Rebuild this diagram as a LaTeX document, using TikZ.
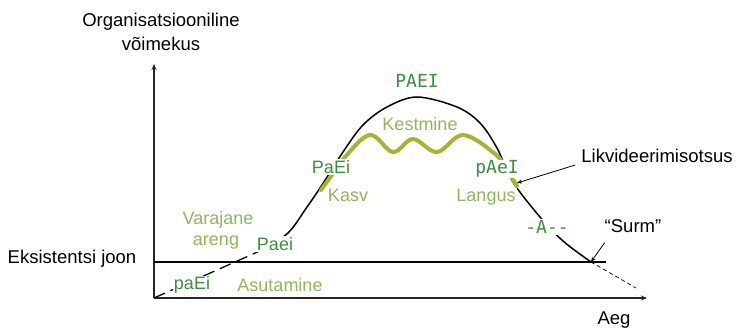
\documentclass[tikz,border=0pt]{standalone}
\usepackage{fontspec}
\setmainfont{Liberation Sans}
\newfontfamily\monofam{DejaVu Sans Mono}
\usetikzlibrary{arrows.meta,calc}
\definecolor{dkgreen}{HTML}{3E8F40}
\definecolor{ltgreen}{HTML}{93B65A}
\definecolor{olive}{HTML}{A8B332}
\tikzset{
  lbl/.style={font=\fontsize{18.5}{20}\selectfont, text=black, inner sep=1pt},
  phase/.style={font=\fontsize{18}{20}\selectfont, text=ltgreen, fill=white, inner sep=1pt},
  code/.style={font=\fontsize{18}{20}\selectfont, text=dkgreen, fill=white, inner sep=1pt},
  mcode/.style={font=\monofam\fontsize{18}{20}\selectfont, text=dkgreen, fill=white, inner sep=1pt},
  axis/.style={line width=1.3pt, draw=black!85, -{Stealth[length=6pt,width=5pt]}},
  lifeline/.style={line width=1.5pt, draw=black},
  waveline/.style={line width=4pt, draw=olive, line cap=round},
  pointer/.style={line width=0.8pt, draw=black, -{Stealth[length=5pt,width=4pt]}}
}
\begin{document}
\begin{tikzpicture}[x=1pt,y=-1pt]
\useasboundingbox (0,0) rectangle (737,329);
% key points
\coordinate (O) at (154,298);
\coordinate (ytop) at (154,64);
\coordinate (xend) at (647,298);
\coordinate (ex0) at (154,262);
\coordinate (ex1) at (606,262);
\coordinate (s0) at (262,250);
\coordinate (death) at (591,262);
\coordinate (tail) at (636,288);
\coordinate (liq) at (517,183);
% axes
\draw[axis] (O) -- (ytop);
\draw[axis] (O) -- (xend);
% existence line
\draw[line width=2.2pt] (ex0) -- (ex1);
% early dashed part
\draw[lifeline, line width=1.3pt, dash pattern=on 12pt off 6pt] (O) -- (s0);
% life curve
\draw[lifeline] plot[smooth, tension=0.55] coordinates {(s0) (288,233) (307,207) (322,185) (343,152) (363,125) (387,107) (417,97) (457,107) (480,123) (497,148) (513,182) (540,217) (563,241) (death)};
% dashed continuation
\draw[line width=0.7pt, dash pattern=on 4pt off 3pt] (death) -- (tail);
% olive band
\draw[waveline] plot[smooth, tension=0.6] coordinates {(321,190) (332,175) (345,157) (370,135) (393,152) (413,139) (437,152) (463,135) (494,153) (505,167) (517,186)};
% labels
\node[lbl] (title1) at (161,22) {Organisatsiooniline};
\node[lbl] (title2) at (161,44) {võimekus};
\node[lbl] (exist) at (72,259) {Eksistentsi joon};
\node[lbl] (aeg) at (614,320) {Aeg};
\node[lbl] (lik) at (657,156) {Likvideerimisotsus};
\node[lbl] (surm) at (633,226) {“Surm”};
\node[mcode] (paei4) at (417,81) {PAEI};
\node[phase] (kest) at (420,124) {Kestmine};
\node[code] (paei3) at (331,167) {PaEi};
\node[phase] (kasv) at (348,195) {Kasv};
\node[mcode] (paei5) at (497,169) {pAeI};
\node[phase] (lang) at (486,197) {Langus};
\node[mcode] (paei6) at (547,227) {-A--};
\node[phase] (var1) at (218,220) {Varajane};
\node[phase] (var2) at (216,243) {areng};
\node[code] (paei2) at (275,244) {Paei};
\node[code] (paei1) at (192,285) {paEi};
\node[phase] (asut) at (280,285) {Asutamine};
% pointers
\draw[pointer] ($(lik.south west)+(-5,1)$) -- (liq);
\draw[pointer] ($(surm.south west)+(1,9)$) -- (death);
\end{tikzpicture}
\end{document}
